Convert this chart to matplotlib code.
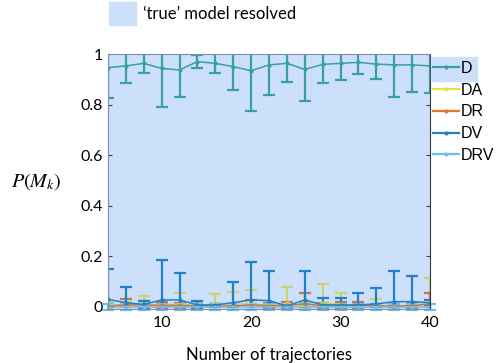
import numpy as np
import matplotlib
matplotlib.use("Agg")
import matplotlib.pyplot as plt
from matplotlib.patches import Patch, Rectangle
from matplotlib.lines import Line2D

plt.rcParams['font.family'] = ['Lato', 'DejaVu Sans']
plt.rcParams['mathtext.fontset'] = 'stix'

n_traj = np.arange(4, 41, 2)

D_mean = [0.946, 0.953, 0.963, 0.943, 0.937, 0.970, 0.963, 0.950, 0.934, 0.957,
          0.963, 0.939, 0.959, 0.963, 0.967, 0.960, 0.957, 0.957, 0.953]
D_low = [0.825, 0.884, 0.926, 0.789, 0.829, 0.943, 0.923, 0.858, 0.775, 0.838,
         0.890, 0.814, 0.884, 0.897, 0.921, 0.901, 0.829, 0.851, 0.847]

DA_mean = [0.008, 0.010, 0.012, 0.008, 0.012, 0.006, 0.010, 0.012, 0.012, 0.006,
           0.014, 0.006, 0.016, 0.010, 0.004, 0.008, 0.004, 0.006, 0.018]
DA_top = [0.020, 0.020, 0.043, 0.020, 0.057, 0.018, 0.051, 0.061, 0.067, 0.020,
          0.080, 0.018, 0.090, 0.054, 0.015, 0.032, 0.015, 0.020, 0.113]

DR_mean = [0.004, 0.008, 0.008, 0.006, 0.006, 0.004, 0.004, 0.004, 0.008, 0.005,
           0.006, 0.012, 0.005, 0.006, 0.006, 0.004, 0.004, 0.005, 0.012]
DR_top = [0.010, 0.030, 0.022, 0.018, 0.017, 0.010, 0.010, 0.010, 0.028, 0.015,
          0.018, 0.054, 0.015, 0.021, 0.021, 0.010, 0.010, 0.015, 0.054]

DV_mean = [0.030, 0.017, 0.010, 0.028, 0.028, 0.008, 0.008, 0.017, 0.028, 0.025,
           0.004, 0.028, 0.008, 0.008, 0.008, 0.012, 0.021, 0.021, 0.017]
DV_top = [0.150, 0.080, 0.024, 0.186, 0.136, 0.025, 0.012, 0.097, 0.179, 0.143,
          0.010, 0.143, 0.034, 0.034, 0.054, 0.076, 0.143, 0.122, 0.028]

DRV_mean = [0.001, 0.001, 0.001, 0.001, 0.001, 0.001, 0.001, 0.001, 0.001, 0.001,
            0.001, 0.001, 0.001, 0.001, 0.001, 0.001, 0.001, 0.001, 0.001]
DRV_err = [0.012, 0.012, 0.012, 0.012, 0.012, 0.012, 0.012, 0.012, 0.012, 0.012,
           0.012, 0.012, 0.012, 0.012, 0.012, 0.012, 0.012, 0.012, 0.012]

labels = ['D', 'DA', 'DR', 'DV', 'DRV']
colors = ['#3a9fa0', '#cdd26a', '#c8744c', '#2080c8', '#68bff0']
legend_colors = ['#3a9fa0', '#e8e040', '#e07830', '#2080c8', '#68bff0']

bg = '#cce0fc'

fig = plt.figure(figsize=(4.98, 3.63), dpi=100)
ax = fig.add_axes([108/498, 1 - 309/363, 322/498, 255/363])
ax.set_facecolor(bg)


def err_plot(mean, err, color, clip=True):
    eb = ax.errorbar(n_traj, mean, yerr=err, color=color, lw=1.1, elinewidth=1.6,
                     capsize=4, capthick=1.6, marker='.', markersize=4)
    if not clip:
        for a in eb.lines[1] + eb.lines[2]:
            a.set_clip_on(False)
    return eb


D_mean = np.array(D_mean)
err_plot(D_mean, D_mean - np.array(D_low), colors[0])
err_plot(DA_mean, np.array(DA_top) - np.array(DA_mean), colors[1])
err_plot(DR_mean, np.array(DR_top) - np.array(DR_mean), colors[2])
err_plot(DV_mean, np.array(DV_top) - np.array(DV_mean), colors[3])
err_plot(DRV_mean, DRV_err, colors[4], clip=False)

ax.set_xlim(4, 40)
ax.set_ylim(-0.008, 1)
ax.set_xticks([10, 20, 30, 40])
ax.set_yticks([0, 0.2, 0.4, 0.6, 0.8, 1])
ax.set_yticklabels(['0', '0.2', '0.4', '0.6', '0.8', '1'])
ax.tick_params(direction='in', labelsize=11.5, length=3, right=True, color='#404040')
ax.tick_params(axis='x', pad=5)
for s in ['left', 'top', 'bottom']:
    ax.spines[s].set_color('#8090a8')
ax.spines['right'].set_color('#303848')

ax.set_xlabel('Number of trajectories', fontsize=12, labelpad=12)
ax.set_ylabel('$P(M_k)$', fontsize=14.5, rotation=0, labelpad=32, va='center')

# highlight box behind the D legend entry
fig.patches.append(Rectangle((431/498, 1 - 81/363), 46/498, 24/363,
                             transform=fig.transFigure, color=bg, zorder=0))

handles = [Line2D([], [], color=c, lw=1.6, marker='.', markersize=4)
           for c in legend_colors]
leg = fig.legend(handles, labels, loc='upper left',
                 bbox_to_anchor=(433/498, 1 - 61/363), frameon=False,
                 prop={'family': 'Liberation Sans', 'size': 11.5},
                 handlelength=1.6, handletextpad=0.15, labelspacing=0.42,
                 borderaxespad=0, borderpad=0)

fig.legend(handles=[Patch(color=bg, label='\u2018true\u2019 model resolved')],
           loc='upper left', bbox_to_anchor=(109/498, 1 - 2/363), frameon=False,
           fontsize=12, handlelength=1.6, handleheight=1.75, handletextpad=0.45,
           borderaxespad=0, borderpad=0)

fig.savefig('out.png', dpi=100)
